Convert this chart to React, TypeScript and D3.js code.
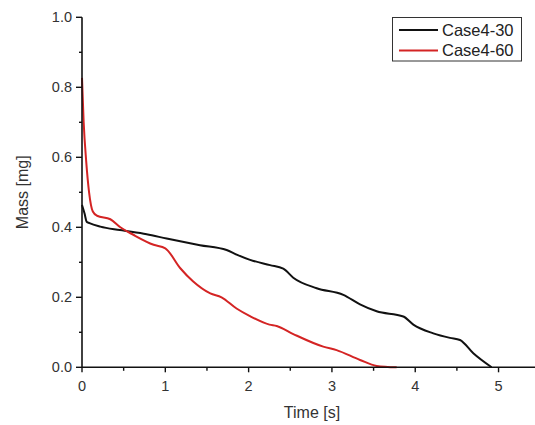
import React, { useEffect, useRef } from "react"
import * as d3 from "d3"

// Case4-30 (black)
const case30Time = [0, 0.03, 0.056, 0.09, 0.22, 0.456, 0.776, 1.016, 1.416, 1.736, 1.856, 2.017, 2.257, 2.416, 2.536, 2.817, 3.137, 3.337, 3.537, 3.857, 3.977, 4.217, 4.417, 4.537, 4.697, 4.917]
const case30Mass = [0.464, 0.44, 0.416, 0.412, 0.402, 0.392, 0.38, 0.368, 0.349, 0.335, 0.322, 0.307, 0.292, 0.282, 0.256, 0.226, 0.207, 0.18, 0.16, 0.145, 0.122, 0.097, 0.084, 0.078, 0.04, 0]

// Case4-60 (red)
const case60Time = [0, 0.02, 0.05, 0.085, 0.13, 0.18, 0.34, 0.46, 0.62, 0.86, 1.0, 1.18, 1.335, 1.54, 1.675, 1.855, 2.01, 2.25, 2.337, 2.536, 2.896, 3.056, 3.337, 3.537, 3.777]
const case60Mass = [0.827, 0.7, 0.59, 0.5, 0.445, 0.433, 0.423, 0.4, 0.378, 0.35, 0.34, 0.283, 0.245, 0.211, 0.2, 0.168, 0.147, 0.122, 0.118, 0.095, 0.059, 0.049, 0.021, 0.004, 0]

const seriesNames = ["Case4-30", "Case4-60"]
const seriesColors = ["#111111", "#d42424"]

const xTicks = [0, 1, 2, 3, 4, 5]
const yTicks = [0, 0.2, 0.4, 0.6, 0.8, 1.0]

export default function App() {
  const ref = useRef<SVGSVGElement>(null)

  useEffect(() => {
    const width = 535
    const height = 425
    const svg = d3.select(ref.current)
    svg.selectAll("*").remove()

    const x = d3.scaleLinear().domain([0, 5.5]).range([82, 540.2])
    const y = d3.scaleLinear().domain([0, 1]).range([367.3, 17.3])
    const font = "'Liberation Sans', Arial, sans-serif"
    const textColor = "#333"

    const series = [
      { name: seriesNames[0], t: case30Time, m: case30Mass, color: seriesColors[0] },
      { name: seriesNames[1], t: case60Time, m: case60Mass, color: seriesColors[1] },
    ]

    const path = d3.line<[number, number]>()
      .x(d => x(d[0]))
      .y(d => y(d[1]))
      .curve(d3.curveMonotoneX)

    // curves
    series.forEach(s => {
      const pts = s.t.map((t, i) => [t, s.m[i]] as [number, number])
      svg.append("path")
        .attr("d", path(pts))
        .attr("fill", "none")
        .attr("stroke", s.color)
        .attr("stroke-width", 2)
        .attr("stroke-linejoin", "round")
    })

    // y axis
    const yAxis = svg.append("g").attr("transform", `translate(${x(0)},0)`)
    yAxis.append("line")
      .attr("x1", 0).attr("x2", 0)
      .attr("y1", y(0)).attr("y2", y(1))
      .attr("stroke", "#111").attr("stroke-width", 1.6)
    d3.range(0, 1.0001, 0.1).forEach(v => {
      const major = Math.round(v * 10) % 2 === 0
      yAxis.append("line")
        .attr("x1", major ? -6 : -3).attr("x2", 0)
        .attr("y1", y(v)).attr("y2", y(v))
        .attr("stroke", "#111").attr("stroke-width", 1.4)
    })
    yTicks.forEach(v => {
      yAxis.append("text")
        .attr("x", -10).attr("y", y(v))
        .attr("dy", "0.35em")
        .attr("text-anchor", "end")
        .attr("font-family", font).attr("font-size", 14.5)
        .attr("fill", textColor)
        .text(d3.format(".1f")(v))
    })

    // x axis
    const xAxis = svg.append("g").attr("transform", `translate(0,${y(0)})`)
    xAxis.append("line")
      .attr("x1", x(0)).attr("x2", width)
      .attr("y1", 0).attr("y2", 0)
      .attr("stroke", "#111").attr("stroke-width", 1.6)
    d3.range(0, 5.5001, 0.5).forEach(v => {
      const major = Math.round(v * 2) % 2 === 0
      xAxis.append("line")
        .attr("x1", x(v)).attr("x2", x(v))
        .attr("y1", 0).attr("y2", major ? 5 : 3.5)
        .attr("stroke", "#111").attr("stroke-width", 1.4)
    })
    xTicks.forEach(v => {
      xAxis.append("text")
        .attr("x", x(v)).attr("y", 19)
        .attr("dy", "0.35em")
        .attr("text-anchor", "middle")
        .attr("font-family", font).attr("font-size", 14.5)
        .attr("fill", textColor)
        .text(String(v))
    })

    // axis titles
    svg.append("text")
      .attr("x", 312).attr("y", 412)
      .attr("dy", "0.35em")
      .attr("text-anchor", "middle")
      .attr("font-family", font).attr("font-size", 16)
      .attr("fill", textColor)
      .text("Time [s]")
    svg.append("text")
      .attr("transform", `translate(22,${(y(0) + y(1)) / 2}) rotate(-90)`)
      .attr("dy", "0.35em")
      .attr("text-anchor", "middle")
      .attr("font-family", font).attr("font-size", 16)
      .attr("fill", textColor)
      .text("Mass [mg]")

    // legend
    const lg = svg.append("g")
    lg.append("rect")
      .attr("x", 392.5).attr("y", 17.5)
      .attr("width", 129).attr("height", 43.5)
      .attr("fill", "white").attr("stroke", "#333").attr("stroke-width", 1)
    series.forEach((s, i) => {
      const cy = 30 + i * 20.5
      lg.append("line")
        .attr("x1", 399).attr("x2", 438)
        .attr("y1", cy).attr("y2", cy)
        .attr("stroke", s.color).attr("stroke-width", 2)
      lg.append("text")
        .attr("x", 442).attr("y", cy)
        .attr("dy", "0.35em")
        .attr("font-family", font).attr("font-size", 16.5)
        .attr("fill", "#222")
        .text(s.name)
    })
  }, [])

  return (
    <svg
      ref={ref}
      width={535}
      height={425}
      style={{ position: "absolute", left: 0, top: 0, background: "white" }}
    />
  )
}
